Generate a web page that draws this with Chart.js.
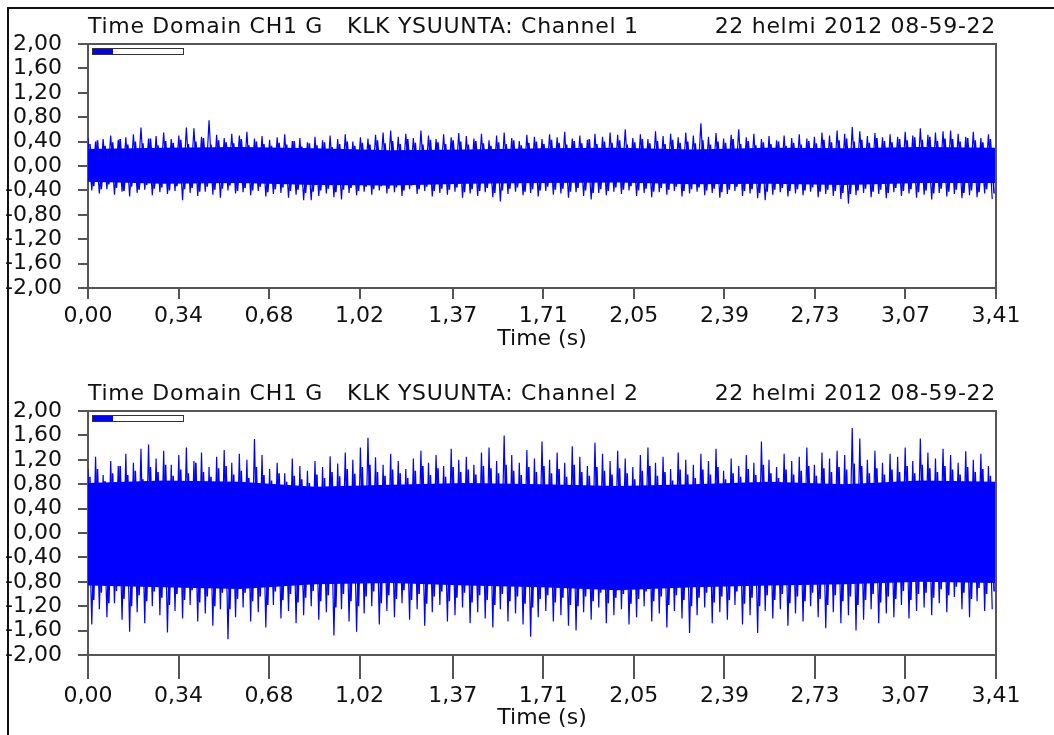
<!DOCTYPE html>
<html>
<head>
<meta charset="utf-8">
<title>Time Domain CH1 G - KLK YSUUNTA</title>
<script src="https://cdn.jsdelivr.net/npm/chart.js@4.4.1/dist/chart.umd.min.js"></script>
<style>
  html, body { margin: 0; padding: 0; background: #fff; }
  body { width: 1054px; height: 735px; position: relative; overflow: hidden; }
  .frame { position: absolute; left: 7px; top: 7px; width: 1100px; height: 800px; border-top: 2px solid #111; border-left: 2px solid #111; }
  .panel { position: absolute; left: 0; width: 1054px; height: 368px; }
</style>
</head>
<body>
<div class="frame"></div>
<div class="panel" style="top:0"><canvas id="ch1Chart" width="1054" height="368"></canvas></div>
<div class="panel" style="top:367px"><canvas id="ch2Chart" width="1054" height="368"></canvas></div>
<script>
// Axis labels as printed on the plot
const xTickLabels = ['0,00', '0,34', '0,68', '1,02', '1,37', '1,71', '2,05', '2,39', '2,73', '3,07', '3,41'];
const yTickLabels = ['-2,00', '-1,60', '-1,20', '-0,80', '-0,40', '0,00', '0,40', '0,80', '1,20', '1,60', '2,00'];
const duration = 3.41; // seconds

// Channel 1: outer peaks (top / bottom) read across the record
const ch1Top = [
    0.46, 0.40, 0.44, 0.50, 0.43, 0.47, 0.52, 0.63, 0.45, 0.49,
    0.55, 0.44, 0.50, 0.63, 0.62, 0.48, 0.75, 0.51, 0.46, 0.53,
    0.50, 0.56, 0.45, 0.49, 0.43, 0.47, 0.52, 0.41, 0.46, 0.39,
    0.48, 0.42, 0.50, 0.44, 0.52, 0.40, 0.47, 0.45, 0.51, 0.55,
    0.58, 0.48, 0.53, 0.46, 0.58, 0.50, 0.44, 0.52, 0.47, 0.54,
    0.49, 0.45, 0.53, 0.42, 0.50, 0.55, 0.46, 0.41, 0.51, 0.48,
    0.44, 0.52, 0.47, 0.56, 0.45, 0.50, 0.43, 0.53, 0.48, 0.55,
    0.51, 0.60, 0.46, 0.52, 0.44, 0.57, 0.49, 0.53, 0.47, 0.55,
    0.50, 0.70, 0.48, 0.54, 0.45, 0.51, 0.60, 0.47, 0.53, 0.44,
    0.49, 0.42, 0.50, 0.46, 0.52, 0.45, 0.48, 0.55, 0.50, 0.58,
    0.53, 0.64, 0.57, 0.49, 0.54, 0.47, 0.52, 0.48, 0.56, 0.50,
    0.62, 0.51, 0.55, 0.57, 0.58, 0.53, 0.48, 0.56, 0.46, 0.52
];
const ch1Bottom = [
    -0.40, -0.45, -0.38, -0.47, -0.42, -0.50, -0.44, -0.39, -0.48, -0.43,
    -0.46, -0.41, -0.56, -0.44, -0.49, -0.42, -0.47, -0.52, -0.40, -0.45,
    -0.43, -0.48, -0.41, -0.50, -0.46, -0.44, -0.52, -0.47, -0.56, -0.56,
    -0.49, -0.45, -0.51, -0.55, -0.44, -0.48, -0.42, -0.47, -0.40, -0.45,
    -0.43, -0.49, -0.38, -0.46, -0.41, -0.50, -0.44, -0.47, -0.42, -0.52,
    -0.45, -0.49, -0.43, -0.51, -0.58, -0.46, -0.42, -0.48, -0.44, -0.50,
    -0.41, -0.47, -0.45, -0.52, -0.43, -0.49, -0.55, -0.44, -0.48, -0.42,
    -0.46, -0.40, -0.49, -0.44, -0.51, -0.43, -0.47, -0.41, -0.50, -0.45,
    -0.42, -0.48, -0.44, -0.52, -0.46, -0.41, -0.49, -0.45, -0.53, -0.56,
    -0.47, -0.43, -0.50, -0.45, -0.48, -0.42, -0.51, -0.46, -0.49, -0.54,
    -0.62, -0.48, -0.44, -0.51, -0.46, -0.53, -0.43, -0.49, -0.45, -0.52,
    -0.47, -0.55, -0.44, -0.50, -0.46, -0.53, -0.48, -0.51, -0.45, -0.54
];
// Channel 1: inner peaks, where the band is still nearly solid
const ch1MidTop = [
    0.36, 0.42, 0.33, 0.39, 0.44, 0.35, 0.40, 0.37, 0.45, 0.34,
    0.41, 0.38, 0.43, 0.36, 0.40, 0.46, 0.35, 0.42, 0.39, 0.37,
    0.44, 0.34, 0.40, 0.36, 0.33, 0.38, 0.35, 0.41, 0.32, 0.37,
    0.34, 0.39, 0.31, 0.36, 0.40, 0.33, 0.38, 0.35, 0.42, 0.37,
    0.41, 0.36, 0.44, 0.38, 0.35, 0.43, 0.39, 0.36, 0.42, 0.40,
    0.35, 0.41, 0.37, 0.33, 0.39, 0.36, 0.42, 0.34, 0.38, 0.40,
    0.36, 0.43, 0.38, 0.35, 0.41, 0.37, 0.44, 0.36, 0.40, 0.38,
    0.42, 0.35, 0.39, 0.44, 0.37, 0.41, 0.36, 0.43, 0.38, 0.40,
    0.37, 0.42, 0.35, 0.40, 0.38, 0.44, 0.36, 0.41, 0.34, 0.39,
    0.36, 0.40, 0.33, 0.38, 0.35, 0.41, 0.37, 0.43, 0.39, 0.42,
    0.45, 0.40, 0.43, 0.38, 0.46, 0.41, 0.39, 0.44, 0.42, 0.47,
    0.43, 0.48, 0.41, 0.45, 0.44, 0.40, 0.46, 0.42, 0.39, 0.44
];
const ch1MidBottom = [
    -0.33, -0.38, -0.30, -0.36, -0.41, -0.34, -0.39, -0.31, -0.37, -0.35,
    -0.40, -0.33, -0.38, -0.36, -0.42, -0.34, -0.39, -0.37, -0.32, -0.41,
    -0.36, -0.40, -0.34, -0.43, -0.38, -0.35, -0.41, -0.39, -0.44, -0.42,
    -0.40, -0.37, -0.43, -0.39, -0.36, -0.41, -0.34, -0.38, -0.33, -0.37,
    -0.35, -0.40, -0.32, -0.38, -0.34, -0.41, -0.37, -0.39, -0.35, -0.43,
    -0.38, -0.41, -0.36, -0.44, -0.40, -0.37, -0.35, -0.42, -0.38, -0.40,
    -0.34, -0.39, -0.37, -0.42, -0.36, -0.40, -0.44, -0.38, -0.41, -0.35,
    -0.39, -0.33, -0.40, -0.37, -0.42, -0.36, -0.39, -0.34, -0.41, -0.38,
    -0.35, -0.40, -0.37, -0.43, -0.39, -0.34, -0.41, -0.38, -0.44, -0.42,
    -0.39, -0.36, -0.41, -0.38, -0.40, -0.35, -0.42, -0.39, -0.41, -0.44,
    -0.46, -0.40, -0.37, -0.42, -0.39, -0.44, -0.36, -0.41, -0.38, -0.43,
    -0.40, -0.45, -0.37, -0.42, -0.39, -0.44, -0.40, -0.43, -0.38, -0.45
];
// Channel 1: solid core of the signal band
const ch1CoreTop = [0.28, 0.30, 0.31, 0.29, 0.26, 0.27, 0.29, 0.30, 0.27, 0.30, 0.29, 0.31, 0.30];
const ch1CoreBottom = [-0.26, -0.29, -0.28, -0.31, -0.32, -0.29, -0.28, -0.27, -0.30, -0.29, -0.31, -0.28, -0.28];

// Channel 2: outer peaks
const ch2Top = [
    1.05, 1.25, 0.95, 1.18, 1.10, 1.30, 1.15, 1.38, 1.45, 1.22,
    1.35, 1.12, 1.28, 1.40, 1.18, 1.32, 1.08, 1.25, 1.36, 1.15,
    1.30, 1.20, 1.54, 1.28, 1.05, 1.15, 0.98, 1.22, 1.10, 1.02,
    1.18, 1.08, 1.26, 1.14, 1.32, 1.20, 1.40, 1.56, 1.24, 1.12,
    1.30, 1.18, 1.05, 1.22, 1.35, 1.15, 1.28, 1.10, 1.38, 1.20,
    1.25, 1.12, 1.32, 1.40, 1.18, 1.60, 1.28, 1.15, 1.36, 1.22,
    1.50, 1.20, 1.32, 1.15, 1.42, 1.25, 1.10, 1.48, 1.30, 1.18,
    1.35, 1.22, 1.08, 1.28, 1.40, 1.15, 1.25, 1.05, 1.32, 1.20,
    1.12, 1.30, 1.18, 1.38, 1.02, 1.22, 1.10, 1.28, 1.15, 1.50,
    1.20, 1.08, 1.30, 1.18, 1.25, 1.40, 1.12, 1.32, 1.22, 1.35,
    1.28, 1.72, 1.55, 1.20, 1.35, 1.15, 1.30, 1.25, 1.40, 1.18,
    1.55, 1.32, 1.22, 1.38, 1.28, 1.15, 1.34, 1.20, 1.30, 1.10
];
const ch2Bottom = [
    -1.50, -1.25, -1.38, -1.15, -1.42, -1.62, -1.30, -1.48, -1.20, -1.35,
    -1.63, -1.28, -1.40, -1.18, -1.45, -1.32, -1.52, -1.25, -1.74, -1.38,
    -1.22, -1.45, -1.30, -1.55, -1.18, -1.40, -1.28, -1.48, -1.35, -1.20,
    -1.42, -1.30, -1.68, -1.25, -1.45, -1.62, -1.32, -1.20, -1.50, -1.28,
    -1.38, -1.15, -1.42, -1.25, -1.52, -1.30, -1.18, -1.45, -1.35, -1.22,
    -1.48, -1.30, -1.40, -1.55, -1.25, -1.45, -1.32, -1.50, -1.70, -1.38,
    -1.28, -1.45, -1.35, -1.52, -1.60, -1.30, -1.42, -1.22, -1.48, -1.35,
    -1.25, -1.50, -1.38, -1.20, -1.45, -1.32, -1.55, -1.28, -1.40, -1.64,
    -1.35, -1.22, -1.48, -1.30, -1.42, -1.18, -1.50, -1.35, -1.64, -1.28,
    -1.40, -1.25, -1.52, -1.32, -1.45, -1.20, -1.38, -1.56, -1.30, -1.48,
    -1.35, -1.60, -1.42, -1.25, -1.48, -1.32, -1.38, -1.18, -1.40, -1.28,
    -1.22, -1.35, -1.15, -1.30, -1.05, -1.25, -1.38, -1.12, -1.28, -1.25
];
// Channel 2: inner peaks
const ch2MidTop = [
    0.92, 1.05, 0.85, 0.98, 1.10, 0.95, 1.02, 0.88, 1.08, 1.00,
    1.12, 0.94, 1.04, 0.98, 1.15, 1.00, 0.92, 1.06, 1.10, 0.96,
    1.02, 0.90, 1.08, 0.95, 0.86, 0.98, 0.84, 0.94, 0.88, 0.82,
    0.96, 0.90, 1.00, 0.93, 1.05, 0.97, 1.08, 1.12, 1.00, 0.94,
    1.04, 0.98, 0.90, 1.02, 1.10, 0.95, 1.06, 0.92, 1.08, 1.00,
    1.04, 0.96, 1.10, 1.06, 0.98, 1.12, 1.02, 0.95, 1.08, 1.00,
    1.10, 0.98, 1.05, 0.92, 1.12, 1.00, 0.94, 1.08, 1.02, 0.96,
    1.06, 0.98, 0.88, 1.02, 1.10, 0.94, 1.00, 0.86, 1.04, 0.96,
    0.90, 1.04, 0.96, 1.08, 0.88, 0.98, 0.92, 1.05, 0.95, 1.12,
    0.98, 0.90, 1.04, 0.96, 1.02, 1.10, 0.94, 1.06, 1.00, 1.08,
    1.04, 1.14, 1.10, 0.98, 1.06, 0.96, 1.04, 1.00, 1.10, 0.98,
    1.12, 1.06, 1.00, 1.10, 1.04, 0.96, 1.08, 1.00, 1.05, 0.94
];
const ch2MidBottom = [
    -1.10, -0.98, -1.15, -0.95, -1.08, -1.20, -1.02, -1.12, -0.96, -1.06,
    -1.18, -1.00, -1.10, -0.94, -1.14, -1.04, -1.20, -0.98, -1.25, -1.08,
    -0.98, -1.12, -1.04, -1.18, -0.96, -1.10, -1.00, -1.14, -1.06, -0.95,
    -1.12, -1.02, -1.22, -1.00, -1.12, -1.20, -1.04, -0.96, -1.15, -1.02,
    -1.08, -0.94, -1.10, -1.00, -1.16, -1.04, -0.96, -1.12, -1.06, -0.98,
    -1.14, -1.02, -1.10, -1.18, -1.00, -1.12, -1.04, -1.16, -1.22, -1.08,
    -1.02, -1.14, -1.06, -1.18, -1.20, -1.04, -1.12, -0.98, -1.15, -1.06,
    -1.00, -1.16, -1.08, -0.96, -1.12, -1.04, -1.18, -1.02, -1.10, -1.20,
    -1.06, -0.98, -1.14, -1.04, -1.10, -0.96, -1.16, -1.06, -1.20, -1.02,
    -1.10, -1.00, -1.15, -1.04, -1.12, -0.98, -1.08, -1.18, -1.02, -1.12,
    -1.04, -1.18, -1.10, -1.00, -1.14, -1.04, -1.08, -0.95, -1.10, -1.00,
    -0.98, -1.06, -0.92, -1.02, -0.88, -0.98, -1.08, -0.90, -1.00, -0.96
];
const ch2CoreTop = [0.82, 0.86, 0.84, 0.76, 0.79, 0.82, 0.80, 0.77, 0.80, 0.84, 0.80, 0.86, 0.84];
const ch2CoreBottom = [-0.86, -0.89, -0.92, -0.84, -0.82, -0.86, -0.89, -0.94, -0.89, -0.86, -0.84, -0.80, -0.82];

const BLUE = '#0000ff';
const INK = '#111';
const AXIS = '#555';

Chart.defaults.font.family = '"DejaVu Sans", Verdana, sans-serif';
Chart.defaults.font.size = 22;
Chart.defaults.color = INK;

const parseLabel = (l) => parseFloat(l.replace(',', '.'));

// Peaks alternate top / bottom so the line sweeps across the band.
// shift moves the inner trace half a sample so its spikes sit between the outer ones.
function buildTrace(top, bottom, shift) {
    const seq = [];
    for (let i = 0; i < top.length; i++) {
        seq.push(top[i], bottom[i]);
    }
    const step = duration / seq.length;
    return seq.map((v, i) => ({ x: (i + shift) * step, y: v }));
}

function buildCore(values) {
    const step = duration / (values.length - 1);
    return values.map((v, i) => ({ x: i * step, y: v }));
}

// Header texts, plot frame (top/right) and the small level bar
const headerPlugin = {
    id: 'header',
    afterDraw(chart, args, opts) {
        const { ctx, chartArea } = chart;
        ctx.save();
        ctx.font = '22px "DejaVu Sans", Verdana, sans-serif';
        ctx.letterSpacing = '0.7px';
        ctx.fillStyle = INK;
        ctx.textBaseline = 'middle';
        const y = chartArea.top - 17;
        ctx.textAlign = 'left';
        ctx.fillText(opts.left, chartArea.left, y);
        ctx.fillText(opts.middle, chartArea.left + 259, y);
        ctx.textAlign = 'right';
        ctx.fillText(opts.right, chartArea.right, y);

        ctx.strokeStyle = AXIS;
        ctx.lineWidth = 2;
        ctx.beginPath();
        ctx.moveTo(chartArea.left, chartArea.top);
        ctx.lineTo(chartArea.right, chartArea.top);
        ctx.lineTo(chartArea.right, chartArea.bottom);
        ctx.stroke();

        const bx = chartArea.left + 4, by = chartArea.top + 4;
        ctx.fillStyle = '#fff';
        ctx.fillRect(bx, by, 92, 7);
        ctx.strokeStyle = '#333';
        ctx.lineWidth = 1;
        ctx.strokeRect(bx + 0.5, by + 0.5, 91, 6);
        ctx.fillStyle = BLUE;
        ctx.fillRect(bx + 1, by + 1, 20, 5);
        ctx.restore();
    }
};

function makeChart(canvasId, series, channelName, xTickLength, axisHeight) {
    const ctx = document.getElementById(canvasId).getContext('2d');
    return new Chart(ctx, {
        type: 'line',
        data: {
            datasets: [{
                // outer spikes
                data: buildTrace(series.top, series.bottom, 0),
                borderColor: BLUE,
                borderWidth: 1.2,
                pointRadius: 0,
                tension: 0,
                fill: false
            }, {
                // inner, denser part of the band
                data: buildTrace(series.midTop, series.midBottom, 0.5),
                borderColor: BLUE,
                borderWidth: 1.6,
                borderJoinStyle: 'bevel',
                pointRadius: 0,
                tension: 0,
                fill: false
            }, {
                data: buildCore(series.coreTop),
                borderWidth: 0,
                borderColor: BLUE,
                backgroundColor: BLUE,
                pointRadius: 0,
                fill: '+1'
            }, {
                data: buildCore(series.coreBottom),
                borderWidth: 0,
                borderColor: BLUE,
                pointRadius: 0,
                fill: false
            }]
        },
        options: {
            responsive: false,
            animation: false,
            devicePixelRatio: 1,
            layout: { padding: { top: 44, left: 0, right: 58, bottom: 80 - axisHeight } },
            scales: {
                x: {
                    type: 'linear',
                    min: 0,
                    max: duration,
                    afterBuildTicks: (scale) => {
                        scale.ticks = xTickLabels.map(l => ({ value: parseLabel(l) }));
                    },
                    afterFit: (scale) => { scale.height = axisHeight; },
                    grid: { drawOnChartArea: false, tickLength: xTickLength, color: AXIS, lineWidth: 2 },
                    border: { display: true, color: AXIS, width: 2 },
                    ticks: {
                        autoSkip: false,
                        maxRotation: 0,
                        padding: 4,
                        callback: (v, i) => xTickLabels[i]
                    },
                    title: { display: true, text: 'Time (s)', padding: { top: 2, bottom: 0 } }
                },
                y: {
                    min: -2,
                    max: 2,
                    afterBuildTicks: (scale) => {
                        scale.ticks = yTickLabels.map(l => ({ value: parseLabel(l) }));
                    },
                    afterFit: (scale) => { scale.width = 88; },
                    grid: { drawOnChartArea: false, tickLength: 10, color: AXIS, lineWidth: 2 },
                    border: { display: true, color: AXIS, width: 2 },
                    ticks: {
                        autoSkip: false,
                        padding: 16,
                        callback: (v, i) => yTickLabels[i]
                    }
                }
            },
            plugins: {
                legend: { display: false },
                tooltip: { enabled: false },
                header: {
                    left: 'Time Domain CH1 G',
                    middle: 'KLK YSUUNTA: ' + channelName,
                    right: '22 helmi 2012 08-59-22'
                }
            }
        },
        plugins: [headerPlugin]
    });
}

document.addEventListener('DOMContentLoaded', function () {
    makeChart('ch1Chart', {
        top: ch1Top, bottom: ch1Bottom, midTop: ch1MidTop, midBottom: ch1MidBottom,
        coreTop: ch1CoreTop, coreBottom: ch1CoreBottom
    }, 'Channel 1', 11, 64);
    makeChart('ch2Chart', {
        top: ch2Top, bottom: ch2Bottom, midTop: ch2MidTop, midBottom: ch2MidBottom,
        coreTop: ch2CoreTop, coreBottom: ch2CoreBottom
    }, 'Channel 2', 24, 76);
});
</script>
</body>
</html>
